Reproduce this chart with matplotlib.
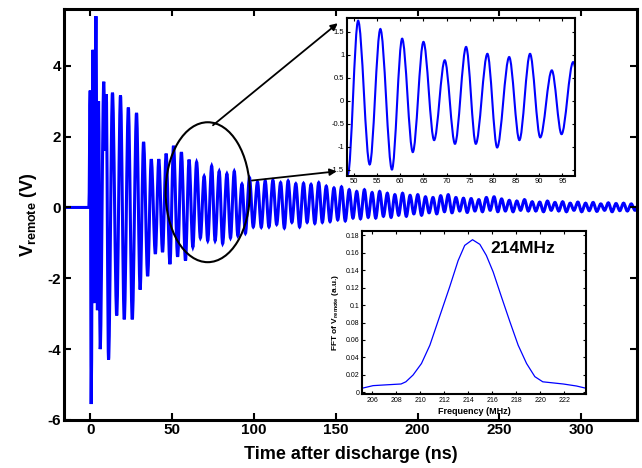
import matplotlib
matplotlib.use("Agg")
import matplotlib.pyplot as plt
from matplotlib.path import Path
from matplotlib.patches import PathPatch, Ellipse

plt.rcParams["font.family"] = ["Liberation Sans", "DejaVu Sans"]
plt.rcParams["mathtext.fontset"] = "custom"
plt.rcParams["mathtext.rm"] = "Liberation Sans"
plt.rcParams["mathtext.bf"] = "Liberation Sans:bold"
plt.rcParams["mathtext.it"] = "Liberation Sans:italic"
plt.rcParams["axes.unicode_minus"] = False

# turning points of V_remote (ns, V)
t_ext = [-16, -0.8, 0.0, 0.6, 1.7, 2.4, 3.5, 4.4, 5.1, 6.1, 8.3, 9.0, 9.8, 11.2,
         13.6, 16.2, 18.5, 20.8, 23.3, 25.7, 28.3, 30.5, 32.6, 35.1, 37.3, 39.8,
         41.9, 44.2, 46.4, 48.7, 50.9, 53.4, 55.7, 58.2, 60.4, 62.7, 65.0, 67.3,
         69.6, 71.8, 74.2, 76.3, 78.8, 80.9, 83.5, 85.7, 88.0, 90.2, 92.7, 94.8,
         97.3, 99.6, 102.2, 104.5, 106.9, 109.2, 111.6, 113.9, 116.3, 118.6, 120.9,
         123.2, 125.6, 127.9, 130.3, 132.5, 134.9, 137.2, 139.6, 141.8, 144.2,
         146.5, 148.9, 151.2, 153.5, 155.8, 158.2, 160.5, 162.8, 165.1, 167.5,
         169.8, 172.2, 174.4, 176.8, 179.1, 181.5, 183.8, 186.1, 188.4, 190.8,
         193.1, 195.4, 197.7, 200.1, 202.4, 204.8, 207.0, 209.4, 211.7, 214.1,
         216.4, 218.7, 221.0, 223.4, 225.7, 228.0, 230.3, 232.7, 235.0, 237.4,
         239.6, 242.0, 244.3, 246.7, 249.0, 251.3, 253.6, 256.0, 258.3, 260.6,
         262.9, 265.3, 267.6, 270.0, 272.2, 274.6, 276.9, 279.3, 281.6, 283.9,
         286.2, 288.6, 290.9, 293.2, 295.5, 297.9, 300.2, 302.6, 304.8, 307.2,
         309.5, 311.9, 314.2, 316.5, 318.8, 321.2, 323.5, 325.8, 328.1, 330.5,
         332.8, 335.1]
v_ext = [0.0, 0.0, 3.3, -5.55, 4.45, -2.7, 5.4, -2.9, 3.0, -4.0, 3.55, 1.6, 3.2, -4.3,
         3.24, -3.05, 3.16, -3.16, 2.82, -3.16, 2.67, -2.32, 1.85, -1.94, 1.36, -1.31,
         1.36, -1.26, 1.52, -1.6, 1.74, -1.39, 1.56, -1.5, 1.35, -1.12, 1.28, -0.86,
         0.88, -0.94, 1.17, -0.94, 1.02, -1.02, 0.95, -0.86, 1.02, -0.80, 0.66, -0.73,
         0.84, -0.55, 0.72, -0.56, 0.75, -0.55, 0.77, -0.48, 0.70, -0.58, 0.75,
         -0.42, 0.67, -0.55, 0.68, -0.42, 0.65, -0.45, 0.70, -0.42, 0.60,
         -0.40, 0.55, -0.35, 0.58, -0.38, 0.50, -0.30, 0.45, -0.32, 0.50,
         -0.28, 0.42, -0.30, 0.45, -0.25, 0.40, -0.28, 0.36, -0.22, 0.40,
         -0.25, 0.34, -0.18, 0.36, -0.22, 0.30, -0.15, 0.28, -0.18, 0.33,
         -0.12, 0.36, -0.15, 0.28, -0.10, 0.26, -0.14, 0.25, -0.10, 0.22,
         -0.12, 0.28, -0.08, 0.30, -0.12, 0.24, -0.10, 0.20, -0.12, 0.18,
         -0.08, 0.22, -0.10, 0.16, -0.10, 0.15, -0.12, 0.18, -0.08, 0.14,
         -0.10, 0.16, -0.12, 0.12, -0.08, 0.15, -0.12, 0.12, -0.09, 0.14,
         -0.11, 0.10, -0.08, 0.13, -0.12, 0.11, -0.09, 0.12, -0.10, 0.10,
         -0.08, 0.10]

# FFT of V_remote
freq = [205.15, 206.07, 206.9, 208.4, 208.8, 209.4, 210.1, 210.8, 211.6, 212.45,
        213.15, 213.7, 214.35, 214.96, 215.5, 216.07, 216.77, 217.46, 218.15,
        218.85, 219.54, 220.2, 221.9, 223.0, 223.8]
fft_amp = [0.0046, 0.0076, 0.0083, 0.0095, 0.012, 0.0198, 0.033, 0.054, 0.0865, 0.121,
           0.151, 0.1685, 0.175, 0.1697, 0.157, 0.138, 0.109, 0.081, 0.054,
           0.033, 0.0179, 0.012, 0.0095, 0.0072, 0.0046]

BLUE = "#0000ff"


def wave_path(t, v):
    # smooth curve through the turning points (flat tangent at each one)
    verts = [(t[0], v[0])]
    codes = [Path.MOVETO]
    for i in range(1, len(t)):
        dt = t[i] - t[i - 1]
        verts += [(t[i - 1] + dt / 3, v[i - 1]), (t[i] - dt / 3, v[i]), (t[i], v[i])]
        codes += [Path.CURVE4] * 3
    return Path(verts, codes)


def box_ticks(a, size, length, width):
    a.tick_params(direction="in", top=True, right=True, labelsize=size,
                  length=length, width=width, pad=2)


fig = plt.figure(figsize=(6.42, 4.68), dpi=100)
ax = fig.add_axes([0.0997, 0.1026, 0.8925, 0.878])
ax.add_patch(PathPatch(wave_path(t_ext, v_ext), fill=False, ec=BLUE, lw=2.2))
ax.set_xlim(-16, 334)
ax.set_ylim(-6, 5.6)
ax.set_xticks([0, 50, 100, 150, 200, 250, 300])
ax.set_yticks([-6, -4, -2, 0, 2, 4])
box_ticks(ax, 11, 5, 1.5)
for lab in ax.get_xticklabels() + ax.get_yticklabels():
    lab.set_fontweight("bold")
for s in ax.spines.values():
    s.set_linewidth(2.2)
ax.set_xlabel("Time after discharge (ns)", fontsize=13, fontweight="bold", labelpad=7)
ax.set_ylabel(r"$\mathbf{V_{remote}}$ (V)", fontsize=13, fontweight="bold", labelpad=6)

ax.add_patch(Ellipse((71.8, 0.43), 51.4, 3.95, fill=False, ec="k", lw=1.5, zorder=3))
arrow = dict(arrowstyle="-|>", color="k", lw=1.3, mutation_scale=10, shrinkA=0, shrinkB=0)
ax.annotate("", xy=(151.2, 5.2), xytext=(75, 2.32), arrowprops=arrow, annotation_clip=False)
ax.annotate("", xy=(150.6, 1.02), xytext=(98.8, 0.76), arrowprops=arrow, annotation_clip=False)

# zoom of the trace
ax1 = fig.add_axes([0.5405, 0.625, 0.3544, 0.3365])
ax1.add_patch(PathPatch(wave_path(t_ext, v_ext), fill=False, ec=BLUE, lw=1.5))
ax1.set_xlim(48.5, 97.6)
ax1.set_ylim(-1.63, 1.8)
ax1.set_xticks([50, 55, 60, 65, 70, 75, 80, 85, 90, 95])
ax1.set_yticks([-1.5, -1, -0.5, 0, 0.5, 1, 1.5])
ax1.set_yticklabels(["-1.5", "-1", "-0.5", "0", "0.5", "1", "1.5"])
box_ticks(ax1, 5.5, 2.5, 0.8)
for s in ax1.spines.values():
    s.set_linewidth(1.5)

# spectrum
ax2 = fig.add_axes([0.5639, 0.1581, 0.3489, 0.3483])
ax2.plot(freq, fft_amp, color=BLUE, lw=0.9)
ax2.set_xlim(205.15, 223.8)
ax2.set_ylim(-0.002, 0.185)
ax2.set_xticks([206, 208, 210, 212, 214, 216, 218, 220, 222])
ax2.set_yticks([0, 0.02, 0.04, 0.06, 0.08, 0.1, 0.12, 0.14, 0.16, 0.18])
ax2.set_yticklabels(["0", "0.02", "0.04", "0.06", "0.08", "0.1", "0.12", "0.14", "0.16", "0.18"])
box_ticks(ax2, 5, 2.5, 0.8)
for s in ax2.spines.values():
    s.set_linewidth(1.5)
ax2.set_xlabel("Frequency (MHz)", fontsize=6.5, fontweight="bold", labelpad=2)
ax2.set_ylabel(r"FFT of $\mathbf{V_{remote}}$ (a.u.)", fontsize=6, fontweight="bold", labelpad=3)
ax2.text(215.8, 0.165, "214MHz", fontsize=12.5, fontweight="bold", va="center")

fig.savefig("out.png", dpi=100)
plt.close(fig)
